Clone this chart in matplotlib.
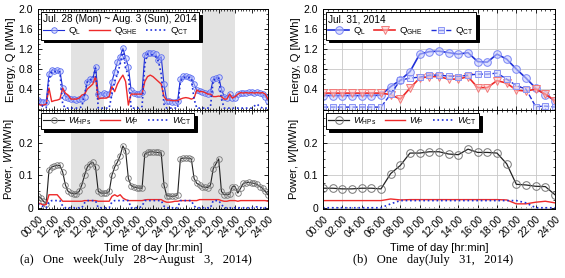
import numpy as np
import matplotlib
matplotlib.use('Agg')
import matplotlib.pyplot as plt
from matplotlib.ticker import MultipleLocator, FixedLocator

plt.rcParams['font.family'] = ['Liberation Sans', 'DejaVu Sans']
plt.rcParams['mathtext.fontset'] = 'custom'
plt.rcParams['mathtext.rm'] = 'Liberation Sans'
plt.rcParams['mathtext.it'] = 'Liberation Sans:italic'

# ---- one week (Jul 28 - Aug 3, 2014), 2-hour steps ----
hours_week = np.arange(0, 169, 2)
q_l_week = [0.18, 0.15, 0.14, 0.15, 0.70, 0.78, 0.77, 0.78, 0.76, 0.42, 0.25, 0.22,
            0.20, 0.20, 0.19, 0.20, 0.20, 0.25, 0.55, 0.60, 0.60, 0.85, 0.30, 0.28,
            0.32, 0.30, 0.30, 0.55, 0.75, 0.95, 1.05, 1.22, 1.02, 0.85, 0.38, 0.33,
            0.30, 0.30, 0.35, 1.08, 1.12, 1.13, 1.12, 1.10, 0.98, 1.05, 0.50, 0.17,
            0.16, 0.15, 0.15, 0.17, 0.60, 0.66, 0.66, 0.65, 0.63, 0.50, 0.38, 0.37,
            0.35, 0.33, 0.30, 0.35, 0.60, 0.62, 0.64, 0.40, 0.25, 0.22, 0.30, 0.22,
            0.22, 0.30, 0.32, 0.33, 0.32, 0.34, 0.34, 0.33, 0.34, 0.33, 0.30, 0.25, 0.17]
q_ghe_week = [0.10, 0.08, 0.08, 0.10, 0.42, 0.15, 0.17, 0.18, 0.20, 0.42, 0.32, 0.28,
              0.20, 0.20, 0.20, 0.22, 0.28, 0.30, 0.40, 0.45, 0.50, 0.65, 0.20, 0.22,
              0.22, 0.22, 0.25, 0.45, 0.35, 0.50, 0.60, 0.68, 0.55, 0.08, 0.30, 0.30,
              0.30, 0.30, 0.30, 0.55, 0.65, 0.68, 0.65, 0.60, 0.55, 0.50, 0.25, 0.18,
              0.18, 0.17, 0.17, 0.17, 0.20, 0.22, 0.23, 0.22, 0.20, 0.22, 0.38, 0.35,
              0.35, 0.33, 0.30, 0.30, 0.25, 0.25, 0.26, 0.25, 0.20, 0.20, 0.30, 0.22,
              0.25, 0.30, 0.33, 0.32, 0.33, 0.32, 0.33, 0.32, 0.33, 0.32, 0.33, 0.30, 0.20]
q_ct_week = [0.12, 0.08, 0.05, 0.03, 0.60, 0.75, 0.75, 0.76, 0.74, 0.10, 0.02, 0.02,
             0.02, 0.02, 0.02, 0.02, 0.05, 0.30, 0.55, 0.58, 0.60, 0.82, 0.02, 0.02,
             0.02, 0.02, 0.02, 0.30, 0.55, 0.70, 0.90, 1.18, 0.80, 0.70, 0.02, 0.02,
             0.02, 0.02, 0.05, 0.90, 1.10, 1.10, 1.08, 1.05, 0.95, 0.70, 0.10, 0.02,
             0.02, 0.02, 0.02, 0.02, 0.55, 0.63, 0.64, 0.63, 0.62, 0.20, 0.02, 0.02,
             0.02, 0.02, 0.02, 0.05, 0.58, 0.60, 0.62, 0.20, 0.02, 0.02, 0.02, 0.02,
             0.02, 0.02, 0.02, 0.02, 0.02, 0.02, 0.02, 0.06, 0.10, 0.05, 0.02, 0.02, 0.02]
w_hp_week = [0.036, 0.030, 0.020, 0.012, 0.115, 0.125, 0.128, 0.130, 0.130, 0.110, 0.070, 0.050,
             0.045, 0.043, 0.043, 0.050, 0.070, 0.100, 0.125, 0.135, 0.140, 0.125, 0.050, 0.045,
             0.045, 0.045, 0.050, 0.100, 0.125, 0.140, 0.160, 0.190, 0.175, 0.090, 0.068, 0.063,
             0.062, 0.060, 0.060, 0.165, 0.170, 0.172, 0.172, 0.170, 0.170, 0.168, 0.070, 0.037,
             0.036, 0.035, 0.036, 0.040, 0.150, 0.152, 0.153, 0.152, 0.150, 0.090, 0.075, 0.070,
             0.065, 0.063, 0.062, 0.070, 0.120, 0.135, 0.150, 0.050, 0.040, 0.040, 0.042, 0.065,
             0.065, 0.045, 0.060, 0.075, 0.077, 0.078, 0.076, 0.075, 0.072, 0.065, 0.060, 0.050, 0.040]
w_p_week = [0.015, 0.012, 0.008, 0.010, 0.040, 0.040, 0.040, 0.040, 0.030, 0.020, 0.020, 0.020,
            0.020, 0.020, 0.020, 0.020, 0.020, 0.022, 0.022, 0.022, 0.022, 0.022, 0.020, 0.020,
            0.020, 0.020, 0.020, 0.035, 0.040, 0.035, 0.040, 0.030, 0.025, 0.022, 0.022, 0.022,
            0.022, 0.022, 0.022, 0.024, 0.025, 0.025, 0.025, 0.025, 0.025, 0.025, 0.020, 0.017,
            0.017, 0.018, 0.020, 0.020, 0.022, 0.022, 0.022, 0.022, 0.022, 0.022, 0.022, 0.025,
            0.025, 0.025, 0.025, 0.025, 0.025, 0.025, 0.025, 0.022, 0.020, 0.020, 0.022, 0.022,
            0.022, 0.020, 0.022, 0.022, 0.022, 0.022, 0.022, 0.022, 0.022, 0.022, 0.022, 0.022, 0.020]
w_ct_week = [0.012, 0.008, 0.003, 0.000, 0.018, 0.022, 0.022, 0.022, 0.022, 0.005, 0.000, 0.000,
             0.000, 0.000, 0.000, 0.000, 0.000, 0.015, 0.022, 0.022, 0.022, 0.022, 0.000, 0.000,
             0.000, 0.000, 0.000, 0.018, 0.022, 0.022, 0.022, 0.022, 0.022, 0.022, 0.000, 0.000,
             0.000, 0.000, 0.005, 0.022, 0.022, 0.022, 0.022, 0.022, 0.022, 0.022, 0.005, 0.000,
             0.000, 0.000, 0.000, 0.000, 0.022, 0.022, 0.022, 0.022, 0.022, 0.005, 0.000, 0.000,
             0.000, 0.000, 0.000, 0.000, 0.022, 0.022, 0.022, 0.010, 0.000, 0.000, 0.000, 0.000,
             0.000, 0.000, 0.000, 0.000, 0.000, 0.000, 0.000, 0.000, 0.003, 0.000, 0.000, 0.000, 0.000]
shaded_days = [(24, 48), (72, 96), (120, 144)]
week_ticks = np.arange(0, 169, 12)
week_labels = ['00:00'] + ['12:00', '24:00'] * 7

# ---- one day (Jul 31, 2014), hourly ----
hours_day = np.arange(0, 25)
q_l_day = [0.27, 0.27, 0.27, 0.27, 0.27, 0.27, 0.28, 0.45, 0.58, 0.75, 1.10, 1.15, 1.16,
           1.13, 1.10, 1.13, 0.95, 0.94, 1.10, 1.00, 0.80, 0.62, 0.42, 0.29, 0.17]
q_ghe_day = [0.32, 0.32, 0.32, 0.32, 0.32, 0.32, 0.32, 0.29, 0.20, 0.42, 0.62, 0.65, 0.65,
             0.60, 0.60, 0.65, 0.43, 0.43, 0.57, 0.52, 0.38, 0.36, 0.40, 0.30, 0.17]
q_ct_day = [0.04, 0.04, 0.04, 0.04, 0.04, 0.04, 0.04, 0.30, 0.58, 0.62, 0.64, 0.68, 0.68,
            0.66, 0.65, 0.68, 0.70, 0.70, 0.72, 0.60, 0.47, 0.40, 0.05, 0.06, 0.04]
w_hp_day = [0.060, 0.060, 0.058, 0.058, 0.060, 0.060, 0.058, 0.105, 0.130, 0.168, 0.168, 0.172, 0.172,
            0.165, 0.163, 0.180, 0.170, 0.170, 0.168, 0.135, 0.072, 0.070, 0.066, 0.065, 0.040]
w_p_day = [0.022, 0.022, 0.022, 0.022, 0.022, 0.022, 0.022, 0.027, 0.024, 0.025, 0.025, 0.025, 0.025,
           0.025, 0.025, 0.025, 0.025, 0.025, 0.025, 0.024, 0.012, 0.012, 0.017, 0.020, 0.015]
w_ct_day = [0.0, 0.0, 0.0, 0.0, 0.0, 0.0, 0.0, 0.012, 0.022, 0.022, 0.022, 0.022, 0.022,
            0.022, 0.022, 0.022, 0.022, 0.022, 0.022, 0.022, 0.022, 0.015, 0.0, 0.0, 0.0]
day_ticks = np.arange(0, 25, 2)
day_labels = ['%02d:00' % h for h in day_ticks]

BLUE = '#1f2fd8'
RED = '#ee2a2a'
fs = 7.5
lfs = 6.8

fig = plt.figure(figsize=(5.65, 2.78), dpi=100)
axes = {
    'qw': fig.add_axes([0.0673, 0.604, 0.407, 0.363]),
    'ww': fig.add_axes([0.0673, 0.248, 0.407, 0.356]),
    'qd': fig.add_axes([0.5717, 0.604, 0.4106, 0.363]),
    'wd': fig.add_axes([0.5717, 0.248, 0.4106, 0.356]),
}


def style(ax, top, week):
    ax.tick_params(which='both', direction='in', top=True, right=True, labelsize=fs)
    ax.tick_params(which='major', length=3, width=0.6)
    ax.tick_params(which='minor', length=1.5, width=0.5)
    for s in ax.spines.values():
        s.set_linewidth(0.7)
    if week:
        ax.set_xlim(0, 168)
        ax.xaxis.set_major_locator(FixedLocator(week_ticks))
        ax.xaxis.set_minor_locator(MultipleLocator(2))
        for a, b in shaded_days:
            ax.axvspan(a, b, color='#e2e2e2', lw=0, zorder=0)
    else:
        ax.set_xlim(0, 24)
        ax.xaxis.set_major_locator(FixedLocator(day_ticks))
        ax.xaxis.set_minor_locator(MultipleLocator(0.5))
        ax.grid(True, which='major', color='#c8c8c8', lw=0.6)
        ax.set_axisbelow(True)
    if top:
        ax.set_ylim(-0.02, 2.0)
        ax.yaxis.set_major_locator(FixedLocator([0.4, 0.8, 1.2, 1.6, 2.0]))
        ax.yaxis.set_minor_locator(MultipleLocator(0.1))
        ax.set_yticklabels(['0.4', '0.8', '1.2', '1.6', '2.0'])
        ax.tick_params(labelbottom=False)
        ax.set_ylabel('Energy, Q [MWh]', fontsize=8)
    else:
        ax.set_ylim(-0.004, 0.3)
        ax.yaxis.set_major_locator(FixedLocator([0, 0.1, 0.2]))
        ax.yaxis.set_minor_locator(MultipleLocator(0.025))
        ax.set_yticklabels(['0', '0.1', '0.2'])
        ax.set_ylabel('Power, $\\mathit{W}$[MWh]', fontsize=8)
    ax.yaxis.set_label_coords(-0.095, 0.5)


def add_legend(ax, title=None):
    leg = ax.legend(loc='upper left', ncol=3, fontsize=lfs, title=title, title_fontsize=lfs + 0.4,
                    alignment='left', frameon=True, fancybox=False, framealpha=1,
                    edgecolor='black', borderpad=0.25, handlelength=2.2,
                    handletextpad=0.4, columnspacing=0.9, labelspacing=0.1,
                    borderaxespad=0.3, shadow={'color': 'black', 'alpha': 1})
    leg.get_frame().set_linewidth(0.7)
    return leg


# week energy
ax = axes['qw']
style(ax, True, True)
ax.plot(hours_week, q_l_week, color=BLUE, lw=0.8, marker='o', ms=4,
        mfc=(0.75, 0.78, 1, 0.5), mec='#5a6cf0', mew=0.6, label='$\\mathrm{Q_{L}}$')
ax.plot(hours_week, q_ghe_week, color=RED, lw=1.0, label='$\\mathrm{Q_{GHE}}$')
ax.plot(hours_week, q_ct_week, color=BLUE, lw=1.2, ls=':', label='$\\mathrm{Q_{CT}}$')
add_legend(ax, 'Jul. 28 (Mon) ~ Aug. 3 (Sun), 2014')

# week power
ax = axes['ww']
style(ax, False, True)
ax.plot(hours_week, w_hp_week, color='#222222', lw=0.8, marker='o', ms=4,
        mfc='none', mec='#777777', mew=0.6, label='$W_{\\mathrm{HPs}}$')
ax.plot(hours_week, w_p_week, color=RED, lw=1.0, label='$W_{\\mathrm{P}}$')
ax.plot(hours_week, w_ct_week, color=BLUE, lw=1.2, ls=':', label='$W_{\\mathrm{CT}}$')
ax.set_xticklabels(week_labels, rotation=45, ha='right', rotation_mode='anchor')
add_legend(ax)

# day energy
ax = axes['qd']
style(ax, True, False)
ax.plot(hours_day, q_l_day, color=BLUE, lw=1.2, marker='o', ms=5.5,
        mfc=(0.78, 0.8, 1, 0.6), mec='#7a86f5', mew=0.7, label='$\\mathrm{Q_{L}}$')
ax.plot(hours_day, q_ghe_day, color=RED, lw=1.2, marker='v', ms=5.5,
        mfc=(1, 0.78, 0.78, 0.6), mec='#f27a7a', mew=0.7, label='$\\mathrm{Q_{GHE}}$')
ax.plot(hours_day, q_ct_day, color=BLUE, lw=1.0, ls='--', marker='s', ms=4.5,
        mfc=(0.82, 0.84, 1, 0.6), mec='#8a94f5', mew=0.7, label='$\\mathrm{Q_{CT}}$')
add_legend(ax, 'Jul. 31, 2014')

# day power
ax = axes['wd']
style(ax, False, False)
ax.plot(hours_day, w_hp_day, color='#222222', lw=0.9, marker='o', ms=5.5,
        mfc='none', mec='#777777', mew=0.7, label='$W_{\\mathrm{HPs}}$')
ax.plot(hours_day, w_p_day, color=RED, lw=1.0, label='$W_{\\mathrm{P}}$')
ax.plot(hours_day, w_ct_day, color=BLUE, lw=1.2, ls=':', label='$W_{\\mathrm{CT}}$')
ax.set_xticklabels(day_labels, rotation=45, ha='right', rotation_mode='anchor')
add_legend(ax)

fig.text(0.271, 0.108, 'Time of day [hr:min]', ha='center', va='center', fontsize=8)
fig.text(0.777, 0.108, 'Time of day [hr:min]', ha='center', va='center', fontsize=8)
serif = ['Liberation Serif', 'Noto Sans CJK JP']
fig.text(0.24, 0.063, '(a)   One   week(July   28\uff5eAugust   3,   2014)', ha='center',
         va='center', fontsize=9, family=serif)
fig.text(0.767, 0.063, '(b)   One   day(July   31,   2014)', ha='center',
         va='center', fontsize=9, family=serif)

fig.savefig('out.png', dpi=100)
